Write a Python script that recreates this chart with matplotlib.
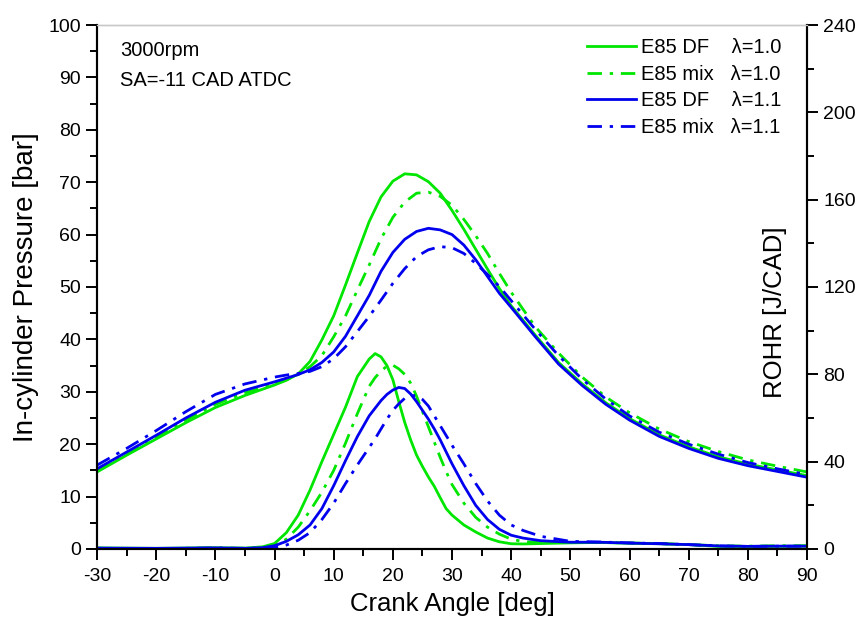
import numpy as np
import matplotlib.pyplot as plt
from matplotlib.lines import Line2D

plt.rcParams['font.family'] = ['Liberation Sans', 'DejaVu Sans']
plt.rcParams['axes.unicode_minus'] = False

# Cylinder pressure [bar] vs crank angle
p_angle = [-30, -25, -20, -15, -10, -5, 0, 2, 4, 6, 8, 10, 12, 14, 16, 18, 20, 22, 24, 26,
           28, 30, 32, 34, 36, 38, 40, 44, 48, 52, 56, 60, 65, 70, 75, 80, 85, 90]
p_df_10 = [14.7, 17.9, 21.0, 24.1, 27.0, 29.3, 31.3, 32.2, 33.4, 35.8, 39.9, 44.5, 50.4, 56.5,
           62.5, 67.2, 70.2, 71.6, 71.4, 70.1, 67.9, 64.6, 61.0, 57.2, 53.4, 49.7, 46.4, 40.9,
           35.6, 31.5, 27.9, 24.9, 21.8, 19.5, 17.6, 16.2, 15.1, 14.0]
p_mix_10 = [15.0, 18.2, 21.3, 24.6, 27.6, 29.8, 31.5, 32.3, 33.3, 34.8, 36.9, 40.5, 44.5, 49.4,
            54.2, 59.2, 63.3, 66.2, 67.9, 68.1, 67.3, 65.6, 62.9, 59.8, 56.4, 52.6, 49.0, 42.5,
            37.4, 32.8, 29.0, 26.0, 22.9, 20.5, 18.6, 17.0, 15.8, 14.7]
p_df_11 = [15.3, 18.5, 21.7, 25.0, 28.0, 30.3, 31.9, 32.6, 33.3, 34.2, 35.6, 37.6, 40.6, 44.5,
           48.4, 53.0, 56.6, 59.1, 60.6, 61.2, 60.9, 60.0, 58.0, 55.2, 52.0, 48.8, 46.1, 40.6,
           35.3, 31.2, 27.6, 24.6, 21.5, 19.2, 17.3, 15.9, 14.8, 13.7]
p_mix_11 = [16.0, 19.2, 22.6, 26.2, 29.5, 31.5, 32.8, 33.2, 33.5, 33.9, 34.8, 36.3, 38.6, 41.5,
            44.4, 47.5, 50.7, 53.5, 55.8, 57.1, 57.7, 57.5, 56.4, 54.5, 52.4, 50.1, 47.4, 42.0,
            36.9, 32.4, 28.6, 25.4, 22.3, 20.0, 18.1, 16.5, 15.3, 14.2]

# Rate of heat release [J/CAD]
r_angle = [-30, -20, -10, -5, -2, 0, 2, 4, 6, 8, 10, 12, 14, 16, 17, 18, 19, 20, 21, 22, 23,
           24, 25, 26, 27, 28, 29, 30, 32, 34, 36, 38, 40, 42, 45, 50, 55, 60, 65, 70, 75, 80, 85, 90]
r_df_10 = [0.5, 0.3, 0.6, 0.4, 1.0, 2.5, 7.5, 15.5, 27.0, 40.0, 52.5, 65.0, 79.0, 87.0, 89.5,
           88.0, 84.0, 77.5, 67.5, 58.0, 50.0, 43.0, 37.8, 33.0, 28.7, 23.5, 18.5, 15.5, 11.0,
           7.8, 5.0, 3.3, 2.4, 2.3, 2.5, 2.8, 3.0, 2.6, 2.4, 2.0, 1.2, 1.0, 1.2, 1.3]
r_mix_10 = [0.3, 0.2, 0.4, 0.3, 0.6, 1.5, 4.5, 10.0, 17.5, 26.0, 36.0, 48.5, 62.0, 74.5, 78.5,
            81.5, 83.8, 84.2, 82.5, 80.0, 76.0, 70.0, 63.0, 56.0, 49.0, 42.0, 35.5, 29.5, 21.0,
            14.5, 10.0, 6.8, 4.5, 3.4, 2.9, 3.0, 3.0, 2.8, 2.5, 2.0, 1.5, 1.3, 1.5, 1.5]
r_df_11 = [0.4, 0.3, 0.5, 0.3, 0.6, 1.5, 3.5, 6.5, 11.0, 18.5, 29.0, 40.5, 51.5, 61.0, 64.5,
           68.0, 70.8, 72.8, 74.0, 73.5, 71.0, 67.5, 63.5, 59.5, 55.0, 50.0, 44.5, 39.0, 29.0,
           20.0, 13.5, 9.0, 6.3, 5.0, 3.8, 3.1, 3.1, 2.7, 2.4, 2.0, 1.4, 1.2, 1.3, 1.3]
r_mix_11 = [0.3, 0.2, 0.4, 0.3, 0.4, 0.8, 1.8, 4.0, 7.5, 13.5, 21.0, 30.0, 38.5, 46.5, 50.5,
            55.0, 59.5, 63.5, 66.5, 69.0, 70.2, 70.3, 68.5, 65.5, 61.0, 56.5, 52.0, 47.5, 39.0,
            30.0, 22.0, 15.5, 11.0, 8.5, 5.8, 3.5, 3.2, 2.8, 2.5, 2.0, 1.4, 1.2, 1.3, 1.3]

labels = ["E85 DF    λ=1.0", "E85 mix   λ=1.0", "E85 DF    λ=1.1", "E85 mix   λ=1.1"]

green = "#00e600"
blue = "#0000ee"
dashdot = (0, (5.2, 2.8, 1.2, 2.8))
lw = 2.0

fig = plt.figure(figsize=(8.55, 6.19), dpi=100)
ax = fig.add_axes([0.1135, 0.1131, 0.8304, 0.8465])
ax2 = ax.twinx()

styles = [(green, "-"), (green, dashdot), (blue, "-"), (blue, dashdot)]
p_series = [p_df_10, p_mix_10, p_df_11, p_mix_11]
r_series = [r_df_10, r_mix_10, r_df_11, r_mix_11]

handles = []
for (c, ls), p, r, lab in zip(styles, p_series, r_series, labels):
    ax.plot(p_angle, p, color=c, linestyle=ls, lw=lw)
    ax2.plot(r_angle, r, color=c, linestyle=ls, lw=lw)
    handles.append(Line2D([], [], color=c, linestyle=ls, lw=lw, label=lab))

ax.set_xlim(-30, 90)
ax.set_ylim(0, 100)
ax2.set_ylim(0, 240)

ax.set_xticks(np.arange(-30, 91, 10))
ax.set_xticks(np.arange(-30, 91, 5), minor=True)
ax.set_yticks(np.arange(0, 101, 10))
ax.set_yticks(np.arange(0, 101, 5), minor=True)
ax2.set_yticks(np.arange(0, 241, 40))
ax2.set_yticks(np.arange(0, 241, 20), minor=True)

for a in (ax, ax2):
    a.tick_params(which="major", direction="out", length=8, width=1.4, labelsize=14)
    a.tick_params(which="minor", direction="out", length=5, width=1.4)
    for s in a.spines.values():
        s.set_linewidth(1.5)
    a.spines["top"].set_color("#c8c8c8")
    a.spines["top"].set_linewidth(1.0)

ax.tick_params(axis="x", pad=6)
ax.set_xlabel("Crank Angle [deg]", fontsize=18.5, labelpad=5)
ax.set_ylabel("In-cylinder Pressure [bar]", fontsize=20, labelpad=7)
ax2.text(0.955, 0.452, "ROHR [J/CAD]", transform=ax2.transAxes, rotation=90,
         ha="center", va="center", fontsize=18.5)

ax.text(0.032, 0.952, "3000rpm", transform=ax.transAxes, fontsize=14.5, va="center")
ax.text(0.032, 0.895, "SA=-11 CAD ATDC", transform=ax.transAxes, fontsize=14.5, va="center")

ax2.legend(handles=handles, loc="upper right", bbox_to_anchor=(0.9635, 0.975),
           frameon=False, fontsize=14.5, handlelength=2.4, handletextpad=0.25,
           labelspacing=0.38, borderpad=0, borderaxespad=0)

fig.savefig("out.png", dpi=100)
